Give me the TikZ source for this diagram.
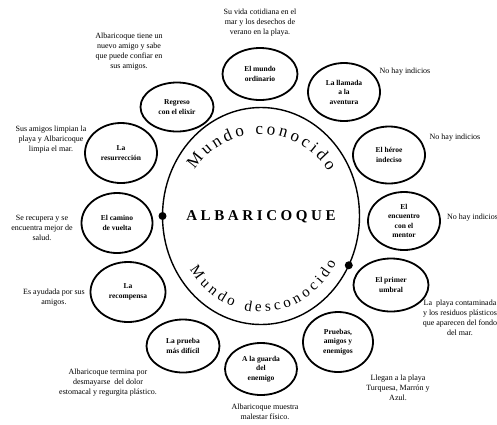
\documentclass[tikz,border=0pt]{standalone}
\usepackage{fontspec}
\setmainfont{Liberation Serif}
\usetikzlibrary{calc,decorations.text,shapes.geometric}
\begin{document}
\begin{tikzpicture}[x=1pt,y=1pt,
  stage/.style={draw, ellipse, line width=1.8pt, inner sep=0pt, align=center,
    font=\fontsize{7.5}{9.5}\selectfont\bfseries},
  note/.style={inner sep=0pt, align=center, font=\fontsize{8}{10}\selectfont},
  dotmark/.style={circle, fill=black, inner sep=0pt, minimum size=8pt}]
\useasboundingbox (0,0) rectangle (497,-424);
% central circle
\coordinate (C) at (261,-216);
\draw[line width=1.4pt] (C) ellipse [x radius=98.5, y radius=108.5];
\node[dotmark] (d1) at ($(C)+(180:98.5 and 108.5)$) {};
\node[dotmark] (d2) at ($(C)+(-27:98.5 and 108.5)$) {};
\node[font=\fontsize{15}{15}\selectfont\bfseries\addfontfeature{LetterSpace=24}] (center) at (261,-217) {ALBARICOQUE};
\path[decorate, decoration={text along path, text align=fit to path,
   text={|\fontsize{17}{17}\selectfont|Mundo conocido}}]
   ($(C)+(146:80 and 82)$) arc[start angle=146, end angle=33, x radius=80, y radius=82];
\path[decorate, decoration={text along path, text align=fit to path,
   text={|\fontsize{15}{15}\selectfont|Mundo desconocido}}]
   ($(C)+(214:86 and 96)$) arc[start angle=214, end angle=331, x radius=86, y radius=96];
% stages
\node[stage, minimum width=75, minimum height=52] (s1) at (260,-74) {El mundo\\ordinario};
\node[stage, minimum width=72, minimum height=58] (s2) at (344,-92) {La llamada\\a la\\aventura};
\node[stage, minimum width=72, minimum height=57] (s3) at (389,-155) {El héroe\\indeciso};
\node[stage, minimum width=72, minimum height=58] (s4) at (404,-221) {El\\encuentro\\con el\\mentor};
\node[stage, minimum width=75, minimum height=53] (s5) at (391,-285) {El primer\\umbral};
\node[stage, minimum width=70, minimum height=60] (s6) at (338,-342) {Pruebas,\\amigos y\\enemigos};
\node[stage, minimum width=72, minimum height=52] (s7) at (261,-369) {A la guarda\\del\\enemigo};
\node[stage, minimum width=73, minimum height=53] (s8) at (183,-346) {La prueba\\más difícil};
\node[stage, minimum width=75, minimum height=60] (s9) at (128,-292) {La\\recompensa};
\node[stage, minimum width=71, minimum height=60] (s10) at (117,-223) {El camino\\de vuelta};
\node[stage, minimum width=72, minimum height=60] (s11) at (121,-153) {La\\resurrección};
\node[stage, minimum width=73, minimum height=49] (s12) at (177,-107) {Regreso\\con el elixir};
% notes
\node[note] (n1) at (260,-23) {Su vida cotidiana en el\\mar y los desechos de\\verano en la playa.};
\node[note] (n2) at (405,-72) {No hay indicios};
\node[note] (n3) at (455,-138) {No hay indicios};
\node[note, anchor=west] (n4) at (447,-218) {No hay indicios};
\node[note] (n5) at (460,-318) {La\ \ playa contaminada\\y los residuos plásticos\\que aparecen del fondo\\del mar.};
\node[note] (n6) at (398,-388) {Llegan a la playa\\Turquesa, Marrón y\\Azul.};
\node[note] (n7) at (265,-412) {Albaricoque muestra\\malestar físico.};
\node[note] (n8) at (108,-383) {Albaricoque termina por\\desmayarse\ \ del dolor\\estomacal y regurgita plástico.};
\node[note] (n9) at (54,-297.5) {Es ayudada por sus\\amigos.};
\node[note] (n10) at (42,-228) {Se recupera y se\\encuentra mejor de\\salud.};
\node[note] (n11) at (51,-140) {Sus amigos limpian la\\playa y Albaricoque\\limpia el mar.};
\node[note] (n12) at (129,-52) {Albaricoque tiene un\\nuevo amigo y sabe\\que puede confiar en\\sus amigos.};
\end{tikzpicture}
\end{document}
